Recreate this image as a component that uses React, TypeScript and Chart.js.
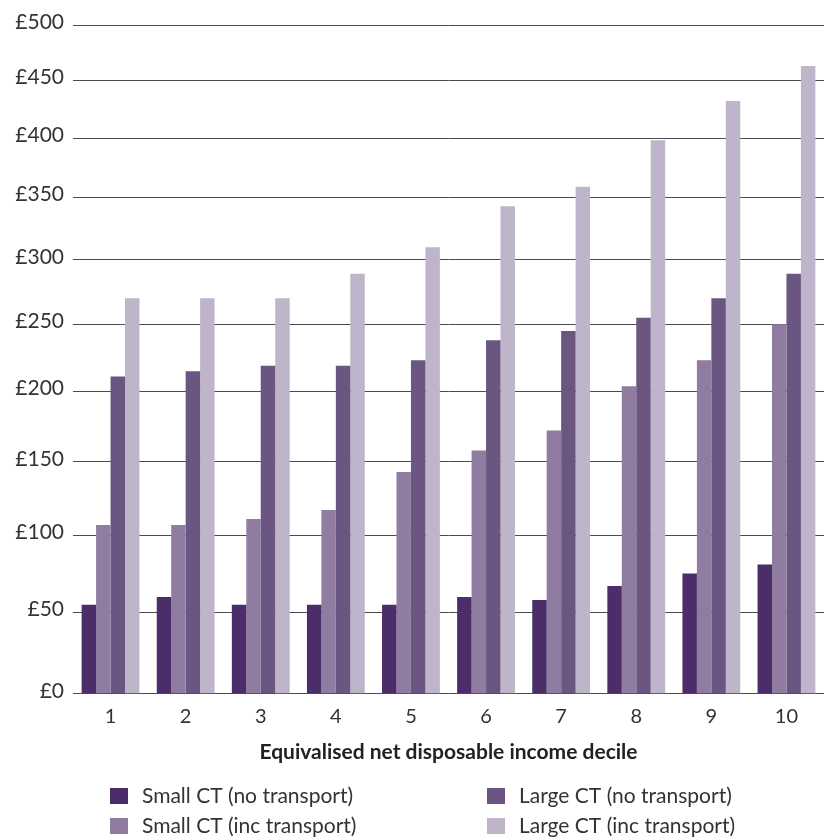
import React, { useEffect, useRef } from 'react';
import { Chart, LinearScale, registerables } from 'chart.js';

// ---- data ----
const categories = ['1', '2', '3', '4', '5', '6', '7', '8', '9', '10'];
const smallNoTransport = [55, 60, 55, 55, 55, 60, 58, 67, 75, 81];
const smallIncTransport = [107, 107, 111, 117, 143, 158, 172, 204, 223, 250];
const largeNoTransport = [211, 215, 219, 219, 223, 238, 245, 255, 270, 289];
const largeIncTransport = [270, 270, 270, 289, 310, 343, 359, 398, 432, 463];
const seriesLabels = [
  'Small CT (no transport)',
  'Small CT (inc transport)',
  'Large CT (no transport)',
  'Large CT (inc transport)',
];
const seriesColors = ['#4B2D69', '#8F7CA0', '#6B5682', '#BEB5CA'];
const yMin = 0;
const yMax = 500;
const yStep = 50;
const xTitle = 'Equivalised net disposable income decile';

// ---- warped value axis (the reference's gridlines are not evenly spaced) ----
const WARP = 950;
const warp = (v: number) => Math.log(1 + v / WARP);

class WarpedLinearScale extends LinearScale {
  static id = 'warpedLinear';
  static defaults = (LinearScale as any).defaults;
  getPixelForValue(value: any) {
    if (value === null || value === undefined || isNaN(value)) return NaN;
    const a = warp((this as any).min);
    const b = warp((this as any).max);
    return (this as any).getPixelForDecimal((warp(value) - a) / (b - a));
  }
  getValueForPixel(pixel: number) {
    const a = warp((this as any).min);
    const b = warp((this as any).max);
    const d = (this as any).getDecimalForPixel(pixel);
    return (Math.exp(a + d * (b - a)) - 1) * WARP;
  }
}

Chart.register(...registerables, WarpedLinearScale as any);

const FONT = 'Lato, "Open Sans", sans-serif';
const TEXT = '#333333';

const gridLegend = {
  id: 'gridLegend',
  afterDraw(chart: any) {
    const ctx = chart.ctx;
    const cols = [110, 487];
    const rows = [796, 826];
    const order = [
      [0, 0, 0],
      [1, 0, 1],
      [2, 1, 0],
      [3, 1, 1],
    ];
    ctx.save();
    ctx.font = `21px ${FONT}`;
    ctx.textBaseline = 'middle';
    ctx.textAlign = 'left';
    for (const [di, c, r] of order) {
      const ds = chart.data.datasets[di];
      const x = cols[c];
      const y = rows[r];
      ctx.fillStyle = ds.backgroundColor;
      ctx.fillRect(x, y - 8, 18, 16);
      ctx.fillStyle = TEXT;
      ctx.fillText(ds.label, x + 32, y);
    }
    ctx.restore();
  },
};

export default function App() {
  const ref = useRef<HTMLCanvasElement | null>(null);
  useEffect(() => {
    if (!ref.current) return;
    const series = [smallNoTransport, smallIncTransport, largeNoTransport, largeIncTransport];
    const chart = new Chart(ref.current, {
      type: 'bar',
      data: {
        labels: categories,
        datasets: series.map((d, i) => ({
          label: seriesLabels[i],
          data: d,
          backgroundColor: seriesColors[i],
          borderWidth: 0,
          categoryPercentage: 0.77,
          barPercentage: 1.0,
        })),
      },
      options: {
        responsive: false,
        animation: false,
        devicePixelRatio: 1,
        layout: { padding: { top: 25, left: 0, right: 0, bottom: 74 } },
        plugins: {
          legend: { display: false },
          tooltip: { enabled: false },
        },
        scales: {
          x: {
            grid: { display: false, drawTicks: false },
            border: { display: false },
            ticks: { color: TEXT, font: { family: FONT, size: 20 }, padding: 11 },
            title: {
              display: true,
              text: xTitle,
              color: '#222',
              font: { family: FONT, size: 21, weight: 'bold' },
              padding: { top: 0, bottom: 0 },
            },
          },
          y: {
            type: 'warpedLinear' as any,
            min: yMin,
            max: yMax,
            grid: { color: '#4d4d4d', lineWidth: 1, drawTicks: false },
            border: { display: false },
            ticks: {
              stepSize: yStep,
              padding: 9,
              labelOffset: -3,
              color: TEXT,
              font: { family: FONT, size: 21 },
              callback: (v: any) => '£' + v,
            },
            afterFit: (s: any) => {
              s.width = 73;
            },
          },
        },
      } as any,
      plugins: [gridLegend],
    });
    return () => chart.destroy();
  }, []);
  return (
    <div style={{ position: 'absolute', left: 0, top: 0, width: 824, height: 839, background: '#fff' }}>
      <canvas ref={ref} width={824} height={839} style={{ display: 'block' }} />
    </div>
  );
}
